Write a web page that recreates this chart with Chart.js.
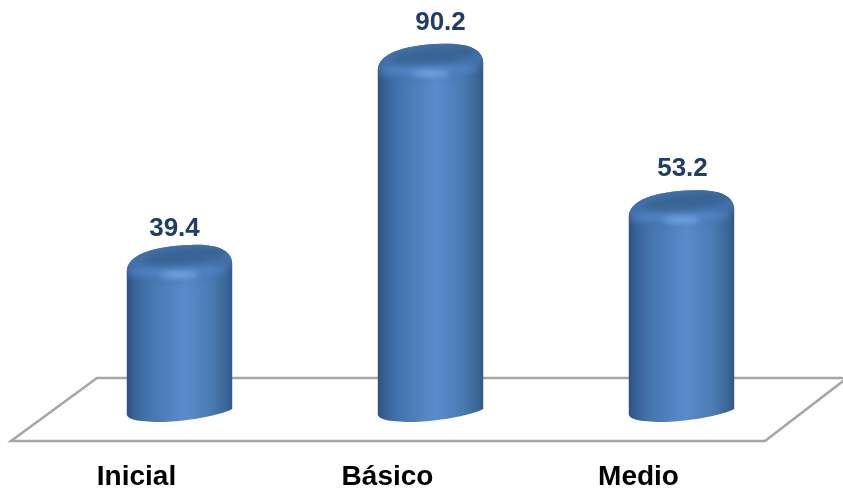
<!DOCTYPE html>
<html>
<head>
<meta charset="utf-8">
<style>
  html, body { margin: 0; padding: 0; background: #fff; }
  #wrap { width: 843px; height: 495px; }
</style>
<script src="https://cdn.jsdelivr.net/npm/chart.js@4"></script>
</head>
<body>
<div id="wrap"><canvas id="chart" width="843" height="495"></canvas></div>
<script>
const categories = ['Inicial', 'Básico', 'Medio'];
const values = [39.4, 90.2, 53.2];

// floor outline, drawn relative to the chart area
const floorPlugin = {
  id: 'floor',
  beforeDatasetsDraw(chart) {
    const { ctx, chartArea: a } = chart;
    ctx.save();
    ctx.strokeStyle = '#a6a6a6';
    ctx.lineWidth = 2.5;
    ctx.beginPath();
    ctx.moveTo(a.left + 43, a.bottom - 23);
    ctx.lineTo(a.right + 40, a.bottom - 23);
    ctx.lineTo(a.right - 42, a.bottom + 40);
    ctx.lineTo(a.left - 43, a.bottom + 40);
    ctx.closePath();
    ctx.stroke();
    ctx.restore();
  }
};

// the source chart's value labels sit a little off centre
const labelNudge = [[-5, -16], [10, -21], [1, -21]];

// cylinders: geometry comes from the bar elements
const cylinderPlugin = {
  id: 'cylinder',
  afterDatasetsDraw(chart) {
    const { ctx } = chart;
    const meta = chart.getDatasetMeta(0);
    meta.data.forEach((bar, i) => {
      const { x, y, base, width } = bar;
      const l = x - width / 2, r = x + width / 2, rx = width / 2;

      const body = new Path2D();
      body.moveTo(l, y + 26);
      body.bezierCurveTo(l + 1, y + 11, x - 30, y + 1, x + 12, y);
      body.bezierCurveTo(r - 16, y - 1, r, y + 5, r, y + 19);
      body.lineTo(r, base + 8);
      body.bezierCurveTo(r - 18, base + 17, x - 5, base + 21, x - 17, base + 21);
      body.bezierCurveTo(l + 14, base + 21, l + 2, base + 19, l, base + 14);
      body.closePath();

      const g = ctx.createLinearGradient(l, 0, r, 0);
      g.addColorStop(0, '#2d517f');
      g.addColorStop(0.08, '#39649a');
      g.addColorStop(0.22, '#4676b0');
      g.addColorStop(0.55, '#5a8ccd');
      g.addColorStop(0.8, '#4b7bb3');
      g.addColorStop(0.94, '#3b6797');
      g.addColorStop(1, '#325885');

      ctx.save();
      ctx.fillStyle = g;
      ctx.fill(body);
      ctx.clip(body);

      // rim shading round the top
      ctx.filter = 'blur(5px)';
      ctx.fillStyle = 'rgba(68,114,172,0.95)';
      ctx.beginPath();
      ctx.ellipse(x, y + 14, rx + 8, 20, -0.08, 0, Math.PI * 2);
      ctx.fill();

      // lighter band along the lip
      ctx.filter = 'blur(3px)';
      ctx.fillStyle = 'rgba(84,138,204,0.75)';
      ctx.beginPath();
      ctx.ellipse(x - 2, y + 26, rx - 4, 5, -0.02, 0, Math.PI * 2);
      ctx.fill();

      // dark inner cap
      ctx.filter = 'blur(3px)';
      ctx.fillStyle = '#3a6493';
      ctx.beginPath();
      ctx.ellipse(x + 5, y + 11, rx - 9, 8, -0.1, 0, Math.PI * 2);
      ctx.fill();

      // highlight under the cap
      ctx.filter = 'blur(3px)';
      ctx.fillStyle = 'rgba(135,185,242,0.95)';
      ctx.beginPath();
      ctx.ellipse(x, y + 30, 19, 2.5, 0, 0, Math.PI * 2);
      ctx.fill();
      ctx.restore();

      // value label
      ctx.save();
      ctx.font = 'bold 26px "Liberation Sans", Arial, sans-serif';
      ctx.fillStyle = '#1f3d66';
      ctx.textAlign = 'center';
      ctx.textBaseline = 'middle';
      ctx.fillText(values[i].toFixed(1), x + labelNudge[i][0], y + labelNudge[i][1]);
      ctx.restore();
    });
  }
};

new Chart(document.getElementById('chart'), {
  type: 'bar',
  data: {
    labels: categories,
    datasets: [{
      data: values,
      backgroundColor: 'transparent',
      borderWidth: 0,
      barPercentage: 0.42,
      categoryPercentage: 1
    }]
  },
  options: {
    responsive: false,
    animation: false,
    layout: { padding: { left: 54, right: 36, top: 5, bottom: 0 } },
    plugins: { legend: { display: false }, tooltip: { enabled: false } },
    scales: {
      x: {
        grid: { display: false },
        border: { display: false },
        afterFit: (scale) => { scale.height = 94; },
        ticks: {
          color: '#000',
          padding: 51,
          labelOffset: -43,
          maxRotation: 0,
          font: { family: '"Liberation Sans", Arial, sans-serif', size: 28, weight: 'bold' }
        }
      },
      y: { display: false, min: 0, max: 100 }
    }
  },
  plugins: [floorPlugin, cylinderPlugin]
});
</script>
</body>
</html>
